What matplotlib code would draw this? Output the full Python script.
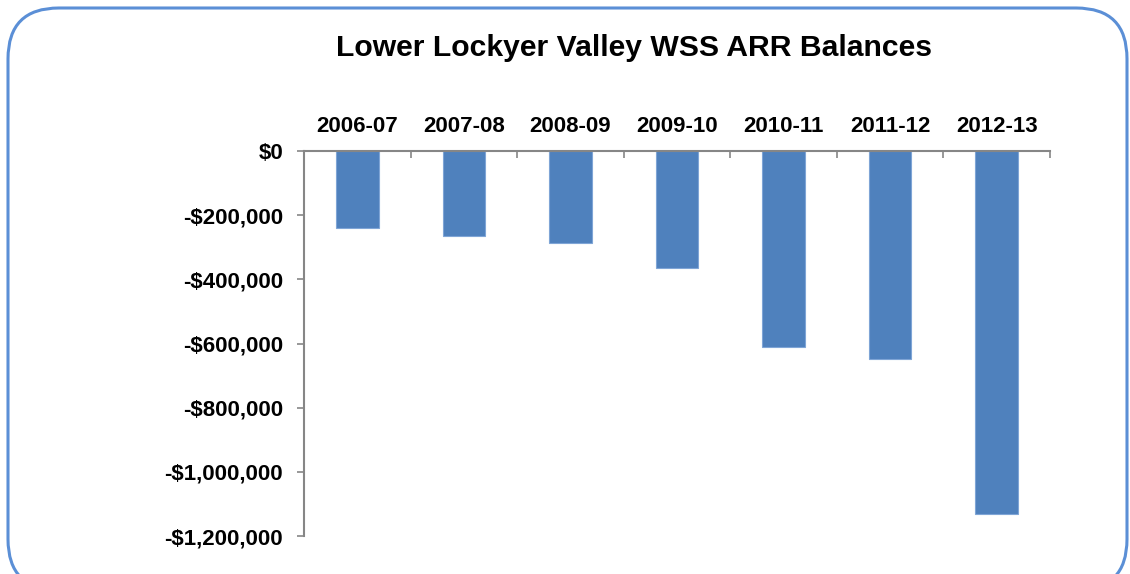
import matplotlib

matplotlib.use("Agg")

import matplotlib.pyplot as plt
from matplotlib.patches import FancyBboxPatch
from matplotlib.ticker import FuncFormatter

plt.rcParams["font.family"] = ["Liberation Sans", "DejaVu Sans"]

years = ["2006-07", "2007-08", "2008-09", "2009-10", "2010-11", "2011-12", "2012-13"]
balances = [-240000, -265000, -287000, -365000, -611000, -648000, -1132000]
y_ticks = [0, -200000, -400000, -600000, -800000, -1000000, -1200000]

W, H = 1130, 574
fig = plt.figure(figsize=(W / 100, H / 100), dpi=100)

# rounded blue frame, bottom runs off the picture
frame = FancyBboxPatch(
    (8 / W, 1 - 590 / H), 1119 / W, 582 / H,
    boxstyle="round,pad=0,rounding_size=0.045",
    transform=fig.transFigure, facecolor="none", edgecolor="#5B8FD6",
    linewidth=2.2, mutation_aspect=W / H, zorder=0,
)
fig.patches.append(frame)

ax = fig.add_axes([304 / W, 1 - 536 / H, 746 / W, 385 / H])
ax.set_facecolor("none")
ax.set_zorder(2)

x = list(range(len(years)))
ax.bar(x, balances, width=0.4, color="#4F81BD", edgecolor="#7FA5D6", linewidth=0.8)

ax.set_xlim(-0.5, len(years) - 0.5)
ax.set_ylim(-1200000, 0)
ax.set_yticks(y_ticks)
ax.yaxis.set_major_formatter(
    FuncFormatter(lambda v, _: f"-${abs(v):,.0f}" if v < 0 else f"${v:,.0f}")
)

ax.xaxis.tick_top()
ax.set_xticks(x)
ax.set_xticklabels(years)
ax.set_xticks([i - 0.5 for i in range(len(years) + 1)], minor=True)
ax.tick_params(axis="x", which="major", length=0, pad=10, labelsize=16)
ax.tick_params(axis="x", which="minor", direction="in", length=5, width=1.2, color="#868686")
ax.tick_params(axis="y", direction="out", length=5, width=1.2, color="#868686", labelsize=16, pad=10)
for lab in ax.get_xticklabels() + ax.get_yticklabels():
    lab.set_fontweight("bold")

for side in ("right", "bottom"):
    ax.spines[side].set_visible(False)
for side in ("left", "top"):
    ax.spines[side].set_color("#868686")
    ax.spines[side].set_linewidth(1.5)

fig.text(634 / W, 1 - 48 / H, "Lower Lockyer Valley WSS ARR Balances",
         ha="center", va="center", fontsize=21.7, fontweight="bold")

fig.savefig("out.png", dpi=100)
